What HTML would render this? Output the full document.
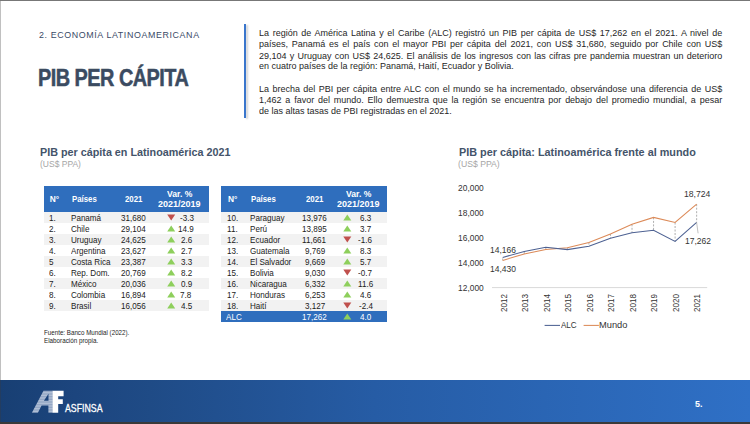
<!DOCTYPE html>
<html><head><meta charset="utf-8"><style>
html,body{margin:0;padding:0;}
body{width:750px;height:424px;position:relative;overflow:hidden;background:#fff;font-family:"Liberation Sans",sans-serif;}
.t{position:absolute;white-space:nowrap;line-height:1;transform-origin:0 0;font-family:"Liberation Sans",sans-serif;}
.p{position:absolute;left:259.2px;width:509.01px;line-height:1;font-size:9.9px;color:#262626;white-space:nowrap;transform-origin:0 0;transform:scaleX(0.91);font-family:"Liberation Sans",sans-serif;}
#foot{position:absolute;left:0;top:379.6px;width:750px;height:42.4px;background:linear-gradient(90deg,#183f73 0%,#1c457e 10%,#1f4b86 20%,#265ca5 50%,#2f70c6 100%);}
</style></head><body>
<div style="position:absolute;left:244.2px;top:24.2px;width:2px;height:94px;background:#3a76cc;box-shadow:2px 1px 2px rgba(0,0,0,0.18)"></div>
<div id="foot"></div>
<div style="position:absolute;left:0;top:0;width:750px;height:1px;background:#777"></div>
<div style="position:absolute;left:0;top:1px;width:1px;height:423px;background:rgba(60,60,60,0.32)"></div>
<div style="position:absolute;left:0;top:422px;width:750px;height:2px;background:#3a3a3a"></div>
<div style="position:absolute;left:44px;top:186px;width:165px;height:26px;background:#2f6ebd;"></div>
<div style="position:absolute;left:44px;top:212px;width:165px;height:11px;background:#f2f2f2;"></div>
<div style="position:absolute;left:44px;top:234px;width:165px;height:11px;background:#f2f2f2;"></div>
<div style="position:absolute;left:44px;top:256px;width:165px;height:11px;background:#f2f2f2;"></div>
<div style="position:absolute;left:44px;top:278px;width:165px;height:11px;background:#f2f2f2;"></div>
<div style="position:absolute;left:44px;top:300px;width:165px;height:11px;background:#f2f2f2;"></div>
<div style="position:absolute;left:221px;top:186px;width:166px;height:26px;background:#2f6ebd;"></div>
<div style="position:absolute;left:221px;top:212px;width:166px;height:11px;background:#f2f2f2;"></div>
<div style="position:absolute;left:221px;top:234px;width:166px;height:11px;background:#f2f2f2;"></div>
<div style="position:absolute;left:221px;top:256px;width:166px;height:11px;background:#f2f2f2;"></div>
<div style="position:absolute;left:221px;top:278px;width:166px;height:11px;background:#f2f2f2;"></div>
<div style="position:absolute;left:221px;top:300px;width:166px;height:11px;background:#f2f2f2;"></div>
<div style="position:absolute;left:221px;top:311px;width:166px;height:11px;background:#2f6ebd;"></div>
<div class="p" style="top:27.92px;text-align:justify;text-align-last:justify;">La región de América Latina y el Caribe (ALC) registró un PIB per cápita de US$ 17,262 en el 2021. A nivel de</div>
<div class="p" style="top:39.22px;text-align:justify;text-align-last:justify;">países, Panamá es el país con el mayor PBI per cápita del 2021, con US$ 31,680, seguido por Chile con US$</div>
<div class="p" style="top:50.92px;text-align:justify;text-align-last:justify;">29,104 y Uruguay con US$ 24,625. El análisis de los ingresos con las cifras pre pandemia muestran un deterioro</div>
<div class="p" style="top:61.22px;">en cuatro países de la región: Panamá, Haití, Ecuador y Bolivia.</div>
<div class="p" style="top:84.02px;text-align:justify;text-align-last:justify;">La brecha del PBI per cápita entre ALC con el mundo se ha incrementado, observándose una diferencia de US$</div>
<div class="p" style="top:95.22px;text-align:justify;text-align-last:justify;">1,462 a favor del mundo. Ello demuestra que la región se encuentra por debajo del promedio mundial, a pesar</div>
<div class="p" style="top:106.02px;">de las altas tasas de PBI registradas en el 2021.</div>
<svg style="position:absolute;left:0;top:0" width="750" height="424">
<line x1="492" y1="287.6" x2="707.2" y2="287.6" stroke="#d9d9d9" stroke-width="1"/>
<line x1="502.70" y1="260.40" x2="502.70" y2="257.40" stroke="#9a9a9a" stroke-width="0.8" stroke-dasharray="2,1.5"/>
<line x1="524.25" y1="253.90" x2="524.25" y2="251.40" stroke="#9a9a9a" stroke-width="0.8" stroke-dasharray="2,1.5"/>
<line x1="545.80" y1="249.60" x2="545.80" y2="247.30" stroke="#9a9a9a" stroke-width="0.8" stroke-dasharray="2,1.5"/>
<line x1="567.35" y1="247.70" x2="567.35" y2="249.60" stroke="#9a9a9a" stroke-width="0.8" stroke-dasharray="2,1.5"/>
<line x1="588.90" y1="242.50" x2="588.90" y2="246.30" stroke="#9a9a9a" stroke-width="0.8" stroke-dasharray="2,1.5"/>
<line x1="610.45" y1="233.90" x2="610.45" y2="238.20" stroke="#9a9a9a" stroke-width="0.8" stroke-dasharray="2,1.5"/>
<line x1="632.00" y1="224.30" x2="632.00" y2="232.80" stroke="#9a9a9a" stroke-width="0.8" stroke-dasharray="2,1.5"/>
<line x1="653.55" y1="217.40" x2="653.55" y2="230.20" stroke="#9a9a9a" stroke-width="0.8" stroke-dasharray="2,1.5"/>
<line x1="675.10" y1="222.50" x2="675.10" y2="241.40" stroke="#9a9a9a" stroke-width="0.8" stroke-dasharray="2,1.5"/>
<line x1="696.65" y1="204.20" x2="696.65" y2="222.30" stroke="#9a9a9a" stroke-width="0.8" stroke-dasharray="2,1.5"/>
<polyline fill="none" stroke="#dc8a58" stroke-width="1.05" points="502.70,260.40 524.25,253.90 545.80,249.60 567.35,247.70 588.90,242.50 610.45,233.90 632.00,224.30 653.55,217.40 675.10,222.50 696.65,204.20"/>
<polyline fill="none" stroke="#4d6192" stroke-width="1.05" points="502.70,257.40 524.25,251.40 545.80,247.30 567.35,249.60 588.90,246.30 610.45,238.20 632.00,232.80 653.55,230.20 675.10,241.40 696.65,222.30"/>
<line x1="696.6" y1="222.3" x2="698.1" y2="233.3" stroke="#a6a6a6" stroke-width="0.7"/>
<line x1="544.6" y1="325.4" x2="560" y2="325.4" stroke="#4d6192" stroke-width="1.05"/>
<line x1="583.6" y1="325.4" x2="598.9" y2="325.4" stroke="#dc8a58" stroke-width="1.05"/>
<defs><pattern id="st" width="4" height="1.6" patternUnits="userSpaceOnUse"><rect width="4" height="1.6" fill="#8fa3c2"/><rect width="4" height="0.8" fill="#b4c2d8"/></pattern></defs>
<path d="M31.9,412.8 L43.5,390.7 L52.9,390.7 L52.9,412.8 L48.4,412.8 L48.4,405.5 L41.6,405.5 L37.9,412.8 Z M43.9,400.7 L48.5,400.7 L48.5,393.8 Z" fill="url(#st)" fill-rule="evenodd"/>
<path d="M52.6,390.7 L63.6,390.7 L63.6,396.2 L58.2,396.2 L58.2,399.2 L62.8,399.2 L62.8,404.1 L58.2,404.1 L58.2,412.8 L52.6,412.8 Z" fill="#ffffff"/>
<polygon points="167.20,214.50 175.20,214.50 171.20,220.50" fill="#c0504d"/>
<polygon points="167.20,231.50 175.20,231.50 171.20,225.50" fill="#8ecf5c"/>
<polygon points="167.20,242.50 175.20,242.50 171.20,236.50" fill="#8ecf5c"/>
<polygon points="167.20,253.50 175.20,253.50 171.20,247.50" fill="#8ecf5c"/>
<polygon points="167.20,264.50 175.20,264.50 171.20,258.50" fill="#8ecf5c"/>
<polygon points="167.20,275.50 175.20,275.50 171.20,269.50" fill="#8ecf5c"/>
<polygon points="167.20,286.50 175.20,286.50 171.20,280.50" fill="#8ecf5c"/>
<polygon points="167.20,297.50 175.20,297.50 171.20,291.50" fill="#8ecf5c"/>
<polygon points="167.20,308.50 175.20,308.50 171.20,302.50" fill="#8ecf5c"/>
<polygon points="343.30,220.50 351.30,220.50 347.30,214.50" fill="#8ecf5c"/>
<polygon points="343.30,231.50 351.30,231.50 347.30,225.50" fill="#8ecf5c"/>
<polygon points="343.30,236.50 351.30,236.50 347.30,242.50" fill="#c0504d"/>
<polygon points="343.30,253.50 351.30,253.50 347.30,247.50" fill="#8ecf5c"/>
<polygon points="343.30,264.50 351.30,264.50 347.30,258.50" fill="#8ecf5c"/>
<polygon points="343.30,269.50 351.30,269.50 347.30,275.50" fill="#c0504d"/>
<polygon points="343.30,286.50 351.30,286.50 347.30,280.50" fill="#8ecf5c"/>
<polygon points="343.30,297.50 351.30,297.50 347.30,291.50" fill="#8ecf5c"/>
<polygon points="343.30,302.50 351.30,302.50 347.30,308.50" fill="#c0504d"/>
<polygon points="343.30,319.50 351.30,319.50 347.30,313.50" fill="#8ecf5c"/>
</svg>
<div class="t" style="left:488.50px;top:298.20px;width:30px;height:10px;line-height:10px;text-align:center;font-size:9.4px;color:#333333;transform-origin:50% 50%;transform:rotate(-90deg) scaleX(0.86);">2012</div>
<div class="t" style="left:510.05px;top:298.20px;width:30px;height:10px;line-height:10px;text-align:center;font-size:9.4px;color:#333333;transform-origin:50% 50%;transform:rotate(-90deg) scaleX(0.86);">2013</div>
<div class="t" style="left:531.60px;top:298.20px;width:30px;height:10px;line-height:10px;text-align:center;font-size:9.4px;color:#333333;transform-origin:50% 50%;transform:rotate(-90deg) scaleX(0.86);">2014</div>
<div class="t" style="left:553.15px;top:298.20px;width:30px;height:10px;line-height:10px;text-align:center;font-size:9.4px;color:#333333;transform-origin:50% 50%;transform:rotate(-90deg) scaleX(0.86);">2015</div>
<div class="t" style="left:574.70px;top:298.20px;width:30px;height:10px;line-height:10px;text-align:center;font-size:9.4px;color:#333333;transform-origin:50% 50%;transform:rotate(-90deg) scaleX(0.86);">2016</div>
<div class="t" style="left:596.25px;top:298.20px;width:30px;height:10px;line-height:10px;text-align:center;font-size:9.4px;color:#333333;transform-origin:50% 50%;transform:rotate(-90deg) scaleX(0.86);">2017</div>
<div class="t" style="left:617.80px;top:298.20px;width:30px;height:10px;line-height:10px;text-align:center;font-size:9.4px;color:#333333;transform-origin:50% 50%;transform:rotate(-90deg) scaleX(0.86);">2018</div>
<div class="t" style="left:639.35px;top:298.20px;width:30px;height:10px;line-height:10px;text-align:center;font-size:9.4px;color:#333333;transform-origin:50% 50%;transform:rotate(-90deg) scaleX(0.86);">2019</div>
<div class="t" style="left:660.90px;top:298.20px;width:30px;height:10px;line-height:10px;text-align:center;font-size:9.4px;color:#333333;transform-origin:50% 50%;transform:rotate(-90deg) scaleX(0.86);">2020</div>
<div class="t" style="left:682.45px;top:298.20px;width:30px;height:10px;line-height:10px;text-align:center;font-size:9.4px;color:#333333;transform-origin:50% 50%;transform:rotate(-90deg) scaleX(0.86);">2021</div>
<div class="t" style="left:38.60px;top:30.85px;font-size:8.8px;color:#3a4a66;font-weight:normal;letter-spacing:0.6px;transform:scaleX(1.0088);">2. ECONOMÍA LATINOAMERICANA</div>
<div class="t" style="left:38.24px;top:66.53px;font-size:23px;color:#3b4b61;font-weight:bold;letter-spacing:-0.6px;transform:scaleX(0.8642);-webkit-text-stroke:0.5px #3b4b61;">PIB PER CÁPITA</div>
<div class="t" style="left:39.93px;top:147.65px;font-size:10.1px;color:#44546a;font-weight:bold;transform:scaleX(1.0678);">PIB per cápita en Latinoamérica 2021</div>
<div class="t" style="left:39.83px;top:159.85px;font-size:8.8px;color:#a6a6a6;font-weight:normal;transform:scaleX(0.9659);">(US$ PPA)</div>
<div class="t" style="left:458.93px;top:148.05px;font-size:10.1px;color:#44546a;font-weight:bold;transform:scaleX(1.0744);">PIB per cápita: Latinoamérica frente al mundo</div>
<div class="t" style="left:458.41px;top:159.85px;font-size:8.8px;color:#a6a6a6;font-weight:normal;transform:scaleX(0.9854);">(US$ PPA)</div>
<div class="t" style="left:49.80px;top:195.09px;font-size:8.4px;color:#fff;font-weight:bold;">N°</div>
<div class="t" style="left:71.70px;top:195.09px;font-size:8.4px;color:#fff;font-weight:bold;transform:scaleX(0.9346);">Países</div>
<div class="t" style="left:124.80px;top:195.09px;font-size:8.4px;color:#fff;font-weight:bold;transform:scaleX(0.9368);">2021</div>
<div class="t" style="left:166.85px;top:189.99px;font-size:8.4px;color:#fff;font-weight:bold;transform:scaleX(1.0280);">Var. %</div>
<div class="t" style="left:158.20px;top:200.09px;font-size:8.4px;color:#fff;font-weight:bold;transform:scaleX(1.0750);">2021/2019</div>
<div class="t" style="left:49.20px;top:213.72px;font-size:8.6px;color:#1c1c1c;font-weight:normal;transform:scaleX(0.9400);">1.</div>
<div class="t" style="left:71.10px;top:213.72px;font-size:8.6px;color:#1c1c1c;font-weight:normal;transform:scaleX(0.9400);">Panamá</div>
<div class="t" style="left:121.48px;top:213.72px;font-size:8.6px;color:#1c1c1c;font-weight:normal;transform:scaleX(0.9400);">31,680</div>
<div class="t" style="left:179.62px;top:213.72px;font-size:8.6px;color:#1c1c1c;font-weight:normal;transform:scaleX(0.9400);">-3.3</div>
<div class="t" style="left:49.20px;top:224.72px;font-size:8.6px;color:#1c1c1c;font-weight:normal;transform:scaleX(0.9400);">2.</div>
<div class="t" style="left:71.10px;top:224.72px;font-size:8.6px;color:#1c1c1c;font-weight:normal;transform:scaleX(0.9400);">Chile</div>
<div class="t" style="left:121.48px;top:224.72px;font-size:8.6px;color:#1c1c1c;font-weight:normal;transform:scaleX(0.9400);">29,104</div>
<div class="t" style="left:177.74px;top:224.72px;font-size:8.6px;color:#1c1c1c;font-weight:normal;transform:scaleX(0.9400);">14.9</div>
<div class="t" style="left:49.20px;top:235.72px;font-size:8.6px;color:#1c1c1c;font-weight:normal;transform:scaleX(0.9400);">3.</div>
<div class="t" style="left:71.10px;top:235.72px;font-size:8.6px;color:#1c1c1c;font-weight:normal;transform:scaleX(0.9400);">Uruguay</div>
<div class="t" style="left:121.48px;top:235.72px;font-size:8.6px;color:#1c1c1c;font-weight:normal;transform:scaleX(0.9400);">24,625</div>
<div class="t" style="left:180.56px;top:235.72px;font-size:8.6px;color:#1c1c1c;font-weight:normal;transform:scaleX(0.9400);">2.6</div>
<div class="t" style="left:49.20px;top:246.72px;font-size:8.6px;color:#1c1c1c;font-weight:normal;transform:scaleX(0.9400);">4.</div>
<div class="t" style="left:71.10px;top:246.72px;font-size:8.6px;color:#1c1c1c;font-weight:normal;transform:scaleX(0.9400);">Argentina</div>
<div class="t" style="left:121.48px;top:246.72px;font-size:8.6px;color:#1c1c1c;font-weight:normal;transform:scaleX(0.9400);">23,627</div>
<div class="t" style="left:180.56px;top:246.72px;font-size:8.6px;color:#1c1c1c;font-weight:normal;transform:scaleX(0.9400);">2.7</div>
<div class="t" style="left:49.20px;top:257.72px;font-size:8.6px;color:#1c1c1c;font-weight:normal;transform:scaleX(0.9400);">5</div>
<div class="t" style="left:71.10px;top:257.72px;font-size:8.6px;color:#1c1c1c;font-weight:normal;transform:scaleX(0.9400);">Costa Rica</div>
<div class="t" style="left:121.48px;top:257.72px;font-size:8.6px;color:#1c1c1c;font-weight:normal;transform:scaleX(0.9400);">23,387</div>
<div class="t" style="left:180.56px;top:257.72px;font-size:8.6px;color:#1c1c1c;font-weight:normal;transform:scaleX(0.9400);">3.3</div>
<div class="t" style="left:49.20px;top:268.72px;font-size:8.6px;color:#1c1c1c;font-weight:normal;transform:scaleX(0.9400);">6.</div>
<div class="t" style="left:71.10px;top:268.72px;font-size:8.6px;color:#1c1c1c;font-weight:normal;transform:scaleX(0.9400);">Rep. Dom.</div>
<div class="t" style="left:121.48px;top:268.72px;font-size:8.6px;color:#1c1c1c;font-weight:normal;transform:scaleX(0.9400);">20,769</div>
<div class="t" style="left:180.56px;top:268.72px;font-size:8.6px;color:#1c1c1c;font-weight:normal;transform:scaleX(0.9400);">8.2</div>
<div class="t" style="left:49.20px;top:279.72px;font-size:8.6px;color:#1c1c1c;font-weight:normal;transform:scaleX(0.9400);">7.</div>
<div class="t" style="left:71.10px;top:279.72px;font-size:8.6px;color:#1c1c1c;font-weight:normal;transform:scaleX(0.9400);">México</div>
<div class="t" style="left:121.48px;top:279.72px;font-size:8.6px;color:#1c1c1c;font-weight:normal;transform:scaleX(0.9400);">20,036</div>
<div class="t" style="left:180.56px;top:279.72px;font-size:8.6px;color:#1c1c1c;font-weight:normal;transform:scaleX(0.9400);">0.9</div>
<div class="t" style="left:49.20px;top:290.72px;font-size:8.6px;color:#1c1c1c;font-weight:normal;transform:scaleX(0.9400);">8.</div>
<div class="t" style="left:71.10px;top:290.72px;font-size:8.6px;color:#1c1c1c;font-weight:normal;transform:scaleX(0.9400);">Colombia</div>
<div class="t" style="left:121.01px;top:290.72px;font-size:8.6px;color:#1c1c1c;font-weight:normal;transform:scaleX(0.9400);">16,894</div>
<div class="t" style="left:180.09px;top:290.72px;font-size:8.6px;color:#1c1c1c;font-weight:normal;transform:scaleX(0.9400);">7.8</div>
<div class="t" style="left:49.20px;top:301.72px;font-size:8.6px;color:#1c1c1c;font-weight:normal;transform:scaleX(0.9400);">9.</div>
<div class="t" style="left:71.10px;top:301.72px;font-size:8.6px;color:#1c1c1c;font-weight:normal;transform:scaleX(0.9400);">Brasil</div>
<div class="t" style="left:121.01px;top:301.72px;font-size:8.6px;color:#1c1c1c;font-weight:normal;transform:scaleX(0.9400);">16,056</div>
<div class="t" style="left:180.56px;top:301.72px;font-size:8.6px;color:#1c1c1c;font-weight:normal;transform:scaleX(0.9400);">4.5</div>
<div class="t" style="left:228.00px;top:195.09px;font-size:8.4px;color:#fff;font-weight:bold;">N°</div>
<div class="t" style="left:250.80px;top:195.09px;font-size:8.4px;color:#fff;font-weight:bold;transform:scaleX(0.9346);">Países</div>
<div class="t" style="left:305.70px;top:195.09px;font-size:8.4px;color:#fff;font-weight:bold;transform:scaleX(0.9368);">2021</div>
<div class="t" style="left:345.65px;top:189.99px;font-size:8.4px;color:#fff;font-weight:bold;transform:scaleX(1.0280);">Var. %</div>
<div class="t" style="left:337.00px;top:200.09px;font-size:8.4px;color:#fff;font-weight:bold;transform:scaleX(1.0750);">2021/2019</div>
<div class="t" style="left:227.40px;top:213.72px;font-size:8.6px;color:#1c1c1c;font-weight:normal;transform:scaleX(0.9400);">10.</div>
<div class="t" style="left:250.20px;top:213.72px;font-size:8.6px;color:#1c1c1c;font-weight:normal;transform:scaleX(0.9400);">Paraguay</div>
<div class="t" style="left:301.91px;top:213.72px;font-size:8.6px;color:#1c1c1c;font-weight:normal;transform:scaleX(0.9400);">13,976</div>
<div class="t" style="left:359.86px;top:213.72px;font-size:8.6px;color:#1c1c1c;font-weight:normal;transform:scaleX(0.9400);">6.3</div>
<div class="t" style="left:227.40px;top:224.72px;font-size:8.6px;color:#1c1c1c;font-weight:normal;transform:scaleX(0.9400);">11.</div>
<div class="t" style="left:250.20px;top:224.72px;font-size:8.6px;color:#1c1c1c;font-weight:normal;transform:scaleX(0.9400);">Perú</div>
<div class="t" style="left:301.91px;top:224.72px;font-size:8.6px;color:#1c1c1c;font-weight:normal;transform:scaleX(0.9400);">13,895</div>
<div class="t" style="left:359.86px;top:224.72px;font-size:8.6px;color:#1c1c1c;font-weight:normal;transform:scaleX(0.9400);">3.7</div>
<div class="t" style="left:227.40px;top:235.72px;font-size:8.6px;color:#1c1c1c;font-weight:normal;transform:scaleX(0.9400);">12.</div>
<div class="t" style="left:250.20px;top:235.72px;font-size:8.6px;color:#1c1c1c;font-weight:normal;transform:scaleX(0.9400);">Ecuador</div>
<div class="t" style="left:302.38px;top:235.72px;font-size:8.6px;color:#1c1c1c;font-weight:normal;transform:scaleX(0.9400);">11,661</div>
<div class="t" style="left:358.45px;top:235.72px;font-size:8.6px;color:#1c1c1c;font-weight:normal;transform:scaleX(0.9400);">-1.6</div>
<div class="t" style="left:227.40px;top:246.72px;font-size:8.6px;color:#1c1c1c;font-weight:normal;transform:scaleX(0.9400);">13.</div>
<div class="t" style="left:250.20px;top:246.72px;font-size:8.6px;color:#1c1c1c;font-weight:normal;transform:scaleX(0.9400);">Guatemala</div>
<div class="t" style="left:304.73px;top:246.72px;font-size:8.6px;color:#1c1c1c;font-weight:normal;transform:scaleX(0.9400);">9,769</div>
<div class="t" style="left:359.86px;top:246.72px;font-size:8.6px;color:#1c1c1c;font-weight:normal;transform:scaleX(0.9400);">8.3</div>
<div class="t" style="left:227.40px;top:257.72px;font-size:8.6px;color:#1c1c1c;font-weight:normal;transform:scaleX(0.9400);">14.</div>
<div class="t" style="left:250.20px;top:257.72px;font-size:8.6px;color:#1c1c1c;font-weight:normal;transform:scaleX(0.9400);">El Salvador</div>
<div class="t" style="left:304.73px;top:257.72px;font-size:8.6px;color:#1c1c1c;font-weight:normal;transform:scaleX(0.9400);">9,669</div>
<div class="t" style="left:359.86px;top:257.72px;font-size:8.6px;color:#1c1c1c;font-weight:normal;transform:scaleX(0.9400);">5.7</div>
<div class="t" style="left:227.40px;top:268.72px;font-size:8.6px;color:#1c1c1c;font-weight:normal;transform:scaleX(0.9400);">15.</div>
<div class="t" style="left:250.20px;top:268.72px;font-size:8.6px;color:#1c1c1c;font-weight:normal;transform:scaleX(0.9400);">Bolivia</div>
<div class="t" style="left:304.73px;top:268.72px;font-size:8.6px;color:#1c1c1c;font-weight:normal;transform:scaleX(0.9400);">9,030</div>
<div class="t" style="left:358.45px;top:268.72px;font-size:8.6px;color:#1c1c1c;font-weight:normal;transform:scaleX(0.9400);">-0.7</div>
<div class="t" style="left:227.40px;top:279.72px;font-size:8.6px;color:#1c1c1c;font-weight:normal;transform:scaleX(0.9400);">16.</div>
<div class="t" style="left:250.20px;top:279.72px;font-size:8.6px;color:#1c1c1c;font-weight:normal;transform:scaleX(0.9400);">Nicaragua</div>
<div class="t" style="left:304.73px;top:279.72px;font-size:8.6px;color:#1c1c1c;font-weight:normal;transform:scaleX(0.9400);">6,332</div>
<div class="t" style="left:357.51px;top:279.72px;font-size:8.6px;color:#1c1c1c;font-weight:normal;transform:scaleX(0.9400);">11.6</div>
<div class="t" style="left:227.40px;top:290.72px;font-size:8.6px;color:#1c1c1c;font-weight:normal;transform:scaleX(0.9400);">17.</div>
<div class="t" style="left:250.20px;top:290.72px;font-size:8.6px;color:#1c1c1c;font-weight:normal;transform:scaleX(0.9400);">Honduras</div>
<div class="t" style="left:304.73px;top:290.72px;font-size:8.6px;color:#1c1c1c;font-weight:normal;transform:scaleX(0.9400);">6,253</div>
<div class="t" style="left:359.86px;top:290.72px;font-size:8.6px;color:#1c1c1c;font-weight:normal;transform:scaleX(0.9400);">4.6</div>
<div class="t" style="left:227.40px;top:301.72px;font-size:8.6px;color:#1c1c1c;font-weight:normal;transform:scaleX(0.9400);">18.</div>
<div class="t" style="left:250.20px;top:301.72px;font-size:8.6px;color:#1c1c1c;font-weight:normal;transform:scaleX(0.9400);">Haití</div>
<div class="t" style="left:304.73px;top:301.72px;font-size:8.6px;color:#1c1c1c;font-weight:normal;transform:scaleX(0.9400);">3,127</div>
<div class="t" style="left:358.92px;top:301.72px;font-size:8.6px;color:#1c1c1c;font-weight:normal;transform:scaleX(0.9400);">-2.4</div>
<div class="t" style="left:226.40px;top:312.72px;font-size:8.6px;color:#fff;font-weight:normal;transform:scaleX(0.9400);">ALC</div>
<div class="t" style="left:301.91px;top:312.72px;font-size:8.6px;color:#fff;font-weight:normal;transform:scaleX(0.9400);">17,262</div>
<div class="t" style="left:359.86px;top:312.72px;font-size:8.6px;color:#fff;font-weight:normal;transform:scaleX(0.9400);">4.0</div>
<div class="t" style="left:43.80px;top:330.13px;font-size:6.7px;color:#1c1c1c;font-weight:normal;transform:scaleX(0.9289);">Fuente: Banco Mundial (2022).</div>
<div class="t" style="left:43.80px;top:338.23px;font-size:6.7px;color:#1c1c1c;font-weight:normal;transform:scaleX(0.9404);">Elaboración propia.</div>
<div class="t" style="left:458.10px;top:183.89px;font-size:8.4px;color:#333333;font-weight:normal;">20,000</div>
<div class="t" style="left:458.10px;top:208.89px;font-size:8.4px;color:#333333;font-weight:normal;">18,000</div>
<div class="t" style="left:458.10px;top:233.89px;font-size:8.4px;color:#333333;font-weight:normal;">16,000</div>
<div class="t" style="left:458.10px;top:258.89px;font-size:8.4px;color:#333333;font-weight:normal;">14,000</div>
<div class="t" style="left:458.10px;top:283.89px;font-size:8.4px;color:#333333;font-weight:normal;">12,000</div>
<div class="t" style="left:489.79px;top:245.99px;font-size:8.4px;color:#333333;font-weight:normal;transform:scaleX(1.0125);">14,166</div>
<div class="t" style="left:489.79px;top:265.19px;font-size:8.4px;color:#333333;font-weight:normal;transform:scaleX(1.0125);">14,430</div>
<div class="t" style="left:683.57px;top:189.79px;font-size:8.4px;color:#333333;font-weight:normal;transform:scaleX(1.0292);">18,724</div>
<div class="t" style="left:685.08px;top:236.99px;font-size:8.4px;color:#333333;font-weight:normal;transform:scaleX(1.0167);">17,262</div>
<div class="t" style="left:561.00px;top:321.12px;font-size:8.6px;color:#333333;font-weight:normal;transform:scaleX(0.9375);">ALC</div>
<div class="t" style="left:599.22px;top:321.12px;font-size:8.6px;color:#333333;font-weight:normal;transform:scaleX(1.0800);">Mundo</div>
<div class="t" style="left:694.70px;top:399.61px;font-size:9.2px;color:#fff;font-weight:bold;transform:scaleX(0.9714);">5.</div>
<div class="t" style="left:64.70px;top:402.75px;font-size:11.4px;color:#fff;font-weight:normal;transform:scaleX(0.7694);-webkit-text-stroke:0.3px #fff;">ASFINSA</div>
</body></html>
